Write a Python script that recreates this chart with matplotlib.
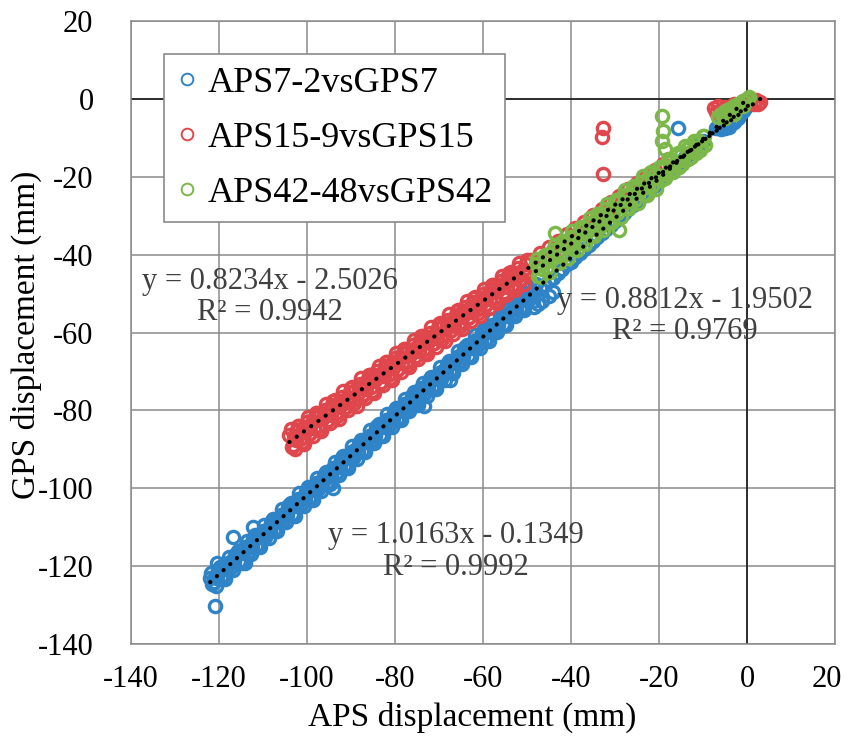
import numpy as np
import matplotlib
matplotlib.use("Agg")
import matplotlib.pyplot as plt
from matplotlib.transforms import ScaledTranslation

# ---------------- data ----------------
# APS7-2 vs GPS7 : main band, hidden part under the green band, cluster near 0, stray points
aps7 = [-122.0,-121.5,-121.0,-120.5,-120.0,-119.5,-119.0,-118.5,-118.0,-117.5,-117.0,-116.5,-116.0,-115.5,-115.0,-114.5,
        -114.0,-113.5,-113.0,-112.5,-112.0,-111.5,-111.0,-110.5,-110.0,-109.5,-109.0,-108.5,-108.0,-107.5,-107.0,-106.5,
        -106.0,-105.5,-105.0,-104.5,-104.0,-103.5,-103.0,-102.5,-102.0,-101.5,-101.0,-100.5,-100.0,-99.5,-99.0,-98.5,
        -98.0,-97.5,-97.0,-96.5,-96.0,-95.5,-95.0,-94.5,-94.0,-93.5,-93.0,-92.5,-92.0,-91.5,-91.0,-90.5,
        -90.0,-89.5,-89.0,-88.5,-88.0,-87.5,-87.0,-86.5,-86.0,-85.5,-85.0,-84.5,-84.0,-83.5,-83.0,-82.5,
        -82.0,-81.5,-81.0,-80.5,-80.0,-79.5,-79.0,-78.5,-78.0,-77.5,-77.0,-76.5,-76.0,-75.5,-75.0,-74.5,
        -74.0,-73.5,-73.0,-72.5,-72.0,-71.5,-71.0,-70.5,-70.0,-69.5,-69.0,-68.5,-68.0,-67.5,-67.0,-66.5,
        -66.0,-65.5,-65.0,-64.5,-64.0,-63.5,-63.0,-62.5,-62.0,-61.5,-61.0,-60.5,-60.0,-59.5,-59.0,-58.5,
        -58.0,-57.5,-57.0,-56.5,-56.0,-55.5,-55.0,-54.5,-54.0,-53.5,-53.0,-52.5,-52.0,-51.5,-51.0,-50.5,
        -50.0,-49.5,-49.0,-48.5,-48.0,
        -47,-46,-45,-44,-43,-42,-41,-40,-39,-38,-37,-36,-35,-34,-33,-32,-31,-30,-29,-28,-27,-26,-25,-24,
        -23,-22,-21,-20,-19,-18,-17,-16,-15,-14,-13,-12,-11,-10,
        -7.0,-6.5,-6.0,-5.5,-5.0,-4.5,-4.0,-3.5,-3.0,-2.5,-2.0,-1.5,-1.0,-0.5,0.0,
        -121.0,-116.8,-112.3,-120.5,-114.0,-94.0,-67.5,-73.5,-48.5,-47.5,-46.5,-45.0,-44.0,-15.7]
gps7 = [-123.1,-124.7,-122.8,-123.1,-120.7,-122.9,-120.5,-120.8,-119.1,-120.6,-118.7,-119.0,-116.6,-118.8,-116.4,-116.7,
        -115.0,-116.6,-114.7,-115.0,-112.6,-114.8,-112.3,-112.6,-110.9,-112.5,-110.6,-110.9,-108.5,-110.7,-108.3,-108.6,
        -106.9,-108.5,-106.5,-106.8,-104.4,-106.6,-104.2,-104.5,-102.8,-104.4,-102.5,-102.8,-100.4,-102.6,-100.1,-100.4,
        -98.7,-100.3,-98.4,-98.7,-96.3,-98.5,-96.1,-96.4,-94.7,-96.3,-94.3,-94.6,-92.2,-94.4,-92.0,-92.3,
        -90.6,-92.2,-90.3,-90.6,-88.2,-90.4,-87.9,-88.2,-86.5,-88.1,-86.2,-86.5,-84.1,-86.3,-83.9,-84.2,
        -82.5,-84.1,-82.2,-82.4,-80.0,-82.2,-79.8,-80.1,-78.4,-80.0,-78.1,-78.4,-76.0,-78.2,-75.8,-76.0,
        -74.3,-75.9,-74.0,-74.3,-71.9,-74.1,-71.7,-72.0,-70.3,-71.9,-70.0,-70.3,-67.8,-70.0,-67.6,-67.9,
        -66.2,-67.8,-65.9,-66.2,-63.8,-66.0,-63.6,-63.9,-62.1,-63.7,-61.8,-62.1,-59.7,-61.9,-59.5,-59.8,
        -58.1,-59.7,-57.8,-58.1,-55.6,-57.8,-55.4,-55.7,-54.0,-55.6,-53.7,-54.0,-51.6,-53.8,-51.4,-51.7,
        -49.9,-51.5,-49.6,-49.9,-47.5,
        -48.6,-47.9,-46.6,-45.9,-44.6,-43.8,-42.5,-41.8,-40.5,-39.7,-38.5,-37.6,-36.4,-35.5,-34.4,-33.5,
        -32.3,-31.4,-30.3,-29.2,-28.3,-27.2,-26.3,-25.1,-24.2,-23.1,-22.2,-21.0,-20.1,-19.0,-18.1,-17.0,
        -16.0,-15.0,-13.9,-12.9,-11.9,-10.9,
        -7.6,-7.2,-7.8,-7.0,-7.5,-6.6,-7.1,-6.2,-6.0,-5.1,-4.8,-3.9,-3.2,-2.4,-1.6,
        -130.2,-112.6,-110.0,-119.2,-119.3,-100.0,-72.3,-78.8,-53.5,-52.6,-51.8,-50.6,-49.5,-7.4]
# further readings inside the dense blue band
aps7_band = [-121.75,-120.75,-119.75,-118.75,-117.75,-116.75,-115.75,-114.75,-113.75,-112.75,-111.75,-110.75,
             -109.75,-108.75,-107.75,-106.75,-105.75,-104.75,-103.75,-102.75,-101.75,-100.75,-99.75,-98.75,
             -97.75,-96.75,-95.75,-94.75,-93.75,-92.75,-91.75,-90.75,-89.75,-88.75,-87.75,-86.75,-85.75,-84.75,
             -83.75,-82.75,-81.75,-80.75,-79.75,-78.75,-77.75,-76.75,-75.75,-74.75,-73.75,-72.75,-71.75,-70.75,
             -69.75,-68.75,-67.75,-66.75,-65.75,-64.75,-63.75,-62.75,-61.75,-60.75,-59.75,-58.75,-57.75,-56.75,
             -55.75,-54.75,-53.75,-52.75,-51.75,-50.75,-49.75,-48.75,
             -121.25,-120.25,-119.25,-118.25,-117.25,-116.25,-115.25,-114.25,-113.25,-112.25,-111.25,-110.25,
             -109.25,-108.25,-107.25,-106.25,-105.25,-104.25,-103.25,-102.25,-101.25,-100.25,-99.25,-98.25,
             -97.25,-96.25,-95.25,-94.25,-93.25,-92.25,-91.25,-90.25,-89.25,-88.25,-87.25,-86.25,-85.25,-84.25,
             -83.25,-82.25,-81.25,-80.25,-79.25,-78.25,-77.25,-76.25,-75.25,-74.25,-73.25,-72.25,-71.25,-70.25,
             -69.25,-68.25,-67.25,-66.25,-65.25,-64.25,-63.25,-62.25,-61.25,-60.25,-59.25,-58.25,-57.25,-56.25,
             -55.25,-54.25,-53.25,-52.25,-51.25,-50.25,-49.25,-48.25]
gps7_band = [-121.7,-125.0,-120.1,-123.2,-117.6,-120.9,-116.1,-119.2,-113.5,-116.8,-112.0,-115.1,
             -109.5,-112.8,-107.9,-111.0,-105.4,-108.7,-103.9,-107.0,-101.3,-104.6,-99.8,-102.9,
             -97.3,-100.6,-95.7,-98.8,-93.2,-96.5,-91.7,-94.8,-89.1,-92.4,-87.6,-90.7,-85.1,-88.4,
             -83.6,-86.6,-81.0,-84.3,-79.5,-82.6,-77.0,-80.2,-75.4,-78.5,-72.9,-76.2,-71.4,-74.4,
             -68.8,-72.1,-67.3,-70.4,-64.8,-68.0,-63.2,-66.3,-60.7,-64.0,-59.2,-62.2,-56.6,-59.9,
             -55.1,-58.2,-52.6,-55.8,-51.0,-54.1,-48.5,-51.8,
             -124.2,-121.1,-123.0,-119.9,-120.1,-117.1,-119.0,-115.8,-116.0,-113.0,-114.9,-111.8,
             -112.0,-108.9,-110.8,-107.7,-107.9,-104.9,-106.8,-103.6,-103.8,-100.8,-102.7,-99.6,
             -99.8,-96.8,-98.6,-95.5,-95.7,-92.7,-94.6,-91.5,-91.6,-88.6,-90.5,-87.4,-87.6,-84.6,
             -86.4,-83.3,-83.5,-80.5,-82.4,-79.3,-79.4,-76.4,-78.3,-75.2,-75.4,-72.4,-74.2,-71.1,
             -71.3,-68.3,-70.2,-67.1,-67.2,-64.2,-66.1,-63.0,-63.2,-60.2,-62.0,-58.9,-59.1,-56.1,
             -58.0,-54.9,-55.1,-52.0,-53.9,-50.8,-51.0,-48.0]

# APS15-9 vs GPS15
aps15 = [-104.0,-103.5,-103.0,-102.5,-102.0,-101.5,-101.0,-100.5,-100.0,-99.5,-99.0,-98.5,-98.0,-97.5,-97.0,-96.5,
         -96.0,-95.5,-95.0,-94.5,-94.0,-93.5,-93.0,-92.5,-92.0,-91.5,-91.0,-90.5,-90.0,-89.5,-89.0,-88.5,
         -88.0,-87.5,-87.0,-86.5,-86.0,-85.5,-85.0,-84.5,-84.0,-83.5,-83.0,-82.5,-82.0,-81.5,-81.0,-80.5,
         -80.0,-79.5,-79.0,-78.5,-78.0,-77.5,-77.0,-76.5,-76.0,-75.5,-75.0,-74.5,-74.0,-73.5,-73.0,-72.5,
         -72.0,-71.5,-71.0,-70.5,-70.0,-69.5,-69.0,-68.5,-68.0,-67.5,-67.0,-66.5,-66.0,-65.5,-65.0,-64.5,
         -64.0,-63.5,-63.0,-62.5,-62.0,-61.5,-61.0,-60.5,-60.0,-59.5,-59.0,-58.5,-58.0,-57.5,-57.0,-56.5,
         -56.0,-55.5,-55.0,-54.5,-54.0,-53.5,-53.0,-52.5,-52.0,-51.5,-51.0,-50.5,-50.0,
         -49,-48,-47,-46,-45,-44,-43,-42,-41,-40,-39,-38,-37,-36,-35,-34,-33,-32,-31,-30,-29,-28,-27,-26,
         -25,-24,-23,-22,-21,-20,-19,
         -7.5,-7.0,-6.5,-6.0,-5.0,-4.0,-3.0,-2.0,-1.0,0.0,1.0,1.5,2.0,2.5,3.0,
         -32.7,-33.0,-32.7]
gps15 = [-86.3,-89.3,-86.7,-87.7,-84.1,-87.3,-84.6,-85.5,-83.0,-86.0,-83.4,-84.4,-80.8,-84.0,-81.3,-82.2,
         -79.8,-82.7,-80.1,-81.1,-77.5,-80.7,-78.0,-78.9,-76.5,-79.4,-76.8,-77.8,-74.2,-77.4,-74.7,-75.6,
         -73.2,-76.2,-73.5,-74.5,-70.9,-74.1,-71.4,-72.3,-69.9,-72.9,-70.3,-71.2,-67.6,-70.8,-68.1,-69.0,
         -66.6,-69.6,-67.0,-67.9,-64.3,-67.5,-64.8,-65.7,-63.3,-66.3,-63.7,-64.7,-61.0,-64.2,-61.5,-62.4,
         -60.0,-63.0,-60.4,-61.4,-57.7,-60.9,-58.2,-59.1,-56.7,-59.7,-57.1,-58.1,-54.5,-57.6,-54.9,-55.8,
         -53.4,-56.4,-53.8,-54.8,-51.2,-54.3,-51.6,-52.5,-50.1,-53.1,-50.5,-51.5,-47.9,-51.1,-48.3,-49.2,
         -46.8,-49.8,-47.2,-48.2,-44.6,-47.8,-45.0,-45.9,-43.5,-46.5,-43.9,-44.9,-41.3,
         -41.4,-42.5,-39.7,-40.9,-38.1,-39.2,-36.4,-37.6,-34.8,-35.9,-33.1,-34.3,-31.5,-32.6,-29.8,-31.0,
         -28.2,-29.4,-26.5,-27.7,-24.9,-26.1,-23.2,-24.4,-21.6,-22.8,-19.9,-21.1,-18.3,-19.5,-16.6,
         -2.3,-3.4,-1.8,-2.9,-2.0,-2.2,-1.3,-1.5,-0.6,-0.8,-0.3,-1.2,-0.4,-1.4,-0.9,
         -7.4,-9.9,-19.2]
aps15_band = [-103.75,-102.75,-101.75,-100.75,-99.75,-98.75,-97.75,-96.75,-95.75,-94.75,-93.75,-92.75,-91.75,
              -90.75,-89.75,-88.75,-87.75,-86.75,-85.75,-84.75,-83.75,-82.75,-81.75,-80.75,-79.75,-78.75,-77.75,
              -76.75,-75.75,-74.75,-73.75,-72.75,-71.75,-70.75,-69.75,-68.75,-67.75,-66.75,-65.75,-64.75,-63.75,
              -62.75,-61.75,-60.75,-59.75,-58.75,-57.75,-56.75,-55.75,-54.75,-53.75,-52.75,-51.75,-50.75,
              -103.25,-102.25,-101.25,-100.25,-99.25,-98.25,-97.25,-96.25,-95.25,-94.25,-93.25,-92.25,-91.25,
              -90.25,-89.25,-88.25,-87.25,-86.25,-85.25,-84.25,-83.25,-82.25,-81.25,-80.25,-79.25,-78.25,-77.25,
              -76.25,-75.25,-74.25,-73.25,-72.25,-71.25,-70.25,-69.25,-68.25,-67.25,-66.25,-65.25,-64.25,-63.25,
              -62.25,-61.25,-60.25,-59.25,-58.25,-57.25,-56.25,-55.25,-54.25,-53.25,-52.25,-51.25,-50.25]
gps15_band = [-84.9,-89.9,-84.0,-88.7,-81.6,-86.6,-80.7,-85.4,-78.3,-83.3,-77.4,-82.1,-75.1,
              -80.0,-74.1,-78.8,-71.8,-76.7,-70.8,-75.5,-68.5,-73.4,-67.5,-72.2,-65.2,-70.1,-64.2,
              -68.9,-61.9,-66.9,-60.9,-65.6,-58.6,-63.6,-57.6,-62.3,-55.3,-60.3,-54.3,-59.0,-52.0,
              -57.0,-51.0,-55.7,-48.7,-53.7,-47.8,-52.4,-45.4,-50.4,-44.5,-49.1,-42.1,-47.5,
              -89.0,-85.1,-88.1,-84.2,-85.7,-81.8,-84.8,-80.9,-82.4,-78.5,-81.5,-77.6,-79.1,
              -75.2,-78.2,-74.3,-75.9,-71.9,-74.9,-71.0,-72.6,-68.6,-71.6,-67.7,-69.3,-65.3,-68.3,
              -64.4,-66.0,-62.0,-65.0,-61.1,-62.7,-58.8,-61.7,-57.8,-59.4,-55.5,-58.4,-54.5,-56.1,
              -52.2,-55.1,-51.2,-52.8,-48.9,-51.8,-47.9,-49.5,-45.6,-48.6,-44.6,-46.2,-42.3]

# APS42-48 vs GPS42
aps42 = [-48.0,-47.5,-47.0,-46.5,-46.0,-45.5,-45.0,-44.5,-44.0,-43.5,-43.0,-42.5,-42.0,-41.5,-41.0,-40.5,
         -40.0,-39.5,-39.0,-38.5,-38.0,-37.5,-37.0,-36.5,-36.0,-35.5,-35.0,-34.5,-34.0,-33.5,-33.0,-32.5,
         -32.0,-31.5,-31.0,-30.5,-30.0,-29.5,-29.0,-28.5,-28.0,-27.5,-27.0,-26.5,-26.0,-25.5,-25.0,-24.5,
         -24.0,-23.5,-23.0,-22.5,-22.0,-21.5,-21.0,-20.5,-20.0,-19.5,-19.0,-18.5,-18.0,-17.5,-17.0,-16.5,
         -16.0,-15.5,-15.0,-14.5,-14.0,-13.5,-13.0,-12.5,-12.0,-11.5,-11.0,-10.5,-10.0,-9.5,
         -6.5,-6.0,-5.5,-5.0,-4.5,-4.0,-3.5,-3.0,-2.5,-2.0,-1.5,-1.0,-0.5,0.0,0.5,-5.0,-3.0,-1.0,
         -19.3,-19.1,-19.3,-18.6,-43.6,-29.0]
gps42 = [-42.5,-45.6,-42.7,-43.8,-40.2,-43.5,-40.4,-41.5,-38.9,-42.1,-39.1,-40.3,-36.7,-40.0,-36.9,-37.9,
         -35.4,-38.6,-35.6,-36.8,-33.1,-36.5,-33.4,-34.4,-31.9,-35.0,-32.1,-33.3,-29.6,-33.0,-29.8,-30.9,
         -28.4,-31.5,-28.6,-29.7,-26.1,-29.4,-26.3,-27.4,-24.8,-28.0,-25.0,-26.2,-22.6,-25.9,-22.8,-23.8,
         -21.3,-24.5,-21.5,-22.7,-19.0,-22.4,-19.3,-20.3,-17.8,-20.9,-18.0,-19.2,-15.5,-18.9,-15.7,-16.8,
         -14.3,-17.4,-14.5,-15.6,-12.0,-15.4,-12.2,-13.3,-10.7,-13.9,-10.9,-12.1,-9.6,-11.8,
         -4.6,-4.0,-4.4,-3.2,-3.6,-2.6,-3.0,-1.9,-2.3,-1.2,-1.6,-0.6,-0.9,0.0,0.4,-4.8,-3.8,-1.9,
         -4.4,-8.2,-10.8,-13.0,-34.4,-33.8]
aps42_band = [-47.75,-46.75,-45.75,-44.75,-43.75,-42.75,-41.75,-40.75,-39.75,-38.75,-37.75,-36.75,-35.75,
              -34.75,-33.75,-32.75,-31.75,-30.75,-29.75,-28.75,-27.75,-26.75,-25.75,-24.75,-23.75,-22.75,
              -21.75,-20.75,-19.75,-18.75,-17.75,-16.75,-15.75,-14.75,-13.75,-12.75,-11.75,-10.75,-9.75]
gps42_band = [-41.0,-45.8,-40.1,-44.4,-37.5,-42.2,-36.5,-40.9,-34.0,-38.7,-33.0,-37.3,-30.5,
              -35.2,-29.5,-33.8,-26.9,-31.7,-26.0,-30.3,-23.4,-28.1,-22.4,-26.8,-19.9,-24.6,
              -18.9,-23.2,-17.6,-20.3,-16.3,-18.9,-14.0,-16.8,-12.8,-15.0,-11.1,-13.2,-9.5]

series_names = ["APS7-2vsGPS7", "APS15-9vsGPS15", "APS42-48vsGPS42"]
series_colors = ["#2f84c8", "#e0474c", "#7cb749"]
trend_slopes = [1.0163, 0.8234, 0.8812]
trend_intercepts = [-0.1349, -2.5026, -1.9502]
trend_r2 = [0.9992, 0.9942, 0.9769]
axis_ticks = [-140, -120, -100, -80, -60, -40, -20, 0, 20]

# ---------------- figure ----------------
SERIF = "Liberation Serif"
plt.rcParams["font.family"] = [SERIF, "DejaVu Serif"]
plt.rcParams["axes.unicode_minus"] = False

W, H = 848, 742
fig = plt.figure(figsize=(W / 100, H / 100), dpi=100)
L, R, T, B = 131, 835, 21, 644
ax = fig.add_axes([L / W, 1 - B / H, (R - L) / W, (B - T) / H])

ax.set_xlim(-140, 20)
ax.set_ylim(-140, 20)
ax.set_xticks(axis_ticks)
ax.set_yticks(axis_ticks)
grid_c = "#8a8a8a"
ax.grid(True, color=grid_c, linewidth=1.1, zorder=0)
ax.set_axisbelow(True)
for s in ax.spines.values():
    s.set_color(grid_c)
    s.set_linewidth(1.1)
ax.axhline(0, color="#1a1a1a", linewidth=1.2, zorder=1)
ax.axvline(0, color="#1a1a1a", linewidth=1.2, zorder=1)

ax.tick_params(axis="both", length=0, labelsize=22, colors="black")
ax.tick_params(axis="x", pad=15)
ax.tick_params(axis="y", pad=27)

xs = [aps7 + aps7_band, aps15 + aps15_band, aps42 + aps42_band]
ys = [gps7 + gps7_band, gps15 + gps15_band, gps42 + gps42_band]
handles = []
for i, (xv, yv) in enumerate(zip(xs, ys)):
    h, = ax.plot(xv, yv, linestyle="none", marker="o", markersize=8.8,
                 markerfacecolor="none", markeredgecolor=series_colors[i],
                 markeredgewidth=2.4, label=series_names[i], zorder=2 + i)
    handles.append(h)

for i, xv in enumerate(xs):
    xr = np.array([min(xv), max(xv)])
    ax.plot(xr, trend_slopes[i] * xr + trend_intercepts[i], color="black",
            linewidth=3.0, linestyle=(0, (0.05, 2.1)), dash_capstyle="round", zorder=6)

def eq_text(i):
    return f"y = {trend_slopes[i]:.4f}x - {abs(trend_intercepts[i]):.4f}\nR\u00b2 = {trend_r2[i]:.4f}"

txt_c = "#404040"
ax.text(-108.4, -50.9, eq_text(1), ha="center", va="center", multialignment="center",
        fontsize=22, color=txt_c, linespacing=1.12, zorder=7)
ax.text(-14.1, -55.8, eq_text(2), ha="center", va="center", multialignment="center",
        fontsize=22, color=txt_c, linespacing=1.12, zorder=7)
ax.text(-66.1, -116.3, eq_text(0), ha="center", va="center", multialignment="center",
        fontsize=22, color=txt_c, linespacing=1.12, zorder=7)

leg = ax.legend(handles=handles, loc="upper left",
                bbox_to_anchor=((164 - L) / (R - L), 1 - (54 - T) / (B - T)),
                borderaxespad=0, fontsize=26, frameon=True, fancybox=False,
                edgecolor="#8a8a8a", framealpha=1, handlelength=0.6,
                handletextpad=0.25, labelspacing=0.6, borderpad=0.35)
leg.get_frame().set_linewidth(1.2)
leg.set_zorder(10)
for lh in leg.legend_handles:
    lh.set_markeredgewidth(1.4)
    lh.set_markersize(8.4)

fig.canvas.draw()
last = ax.get_xticklabels()[-1]
last.set_transform(last.get_transform() + ScaledTranslation(-8 / 100, 0, fig.dpi_scale_trans))

fig.text(472 / W, 1 - 717 / H, "APS displacement (mm)", ha="center", va="center", fontsize=24)
fig.text(26 / W, 1 - 335 / H, "GPS displacement (mm)", ha="center", va="center",
         rotation=90, fontsize=24)

fig.savefig("out.png", dpi=100)
